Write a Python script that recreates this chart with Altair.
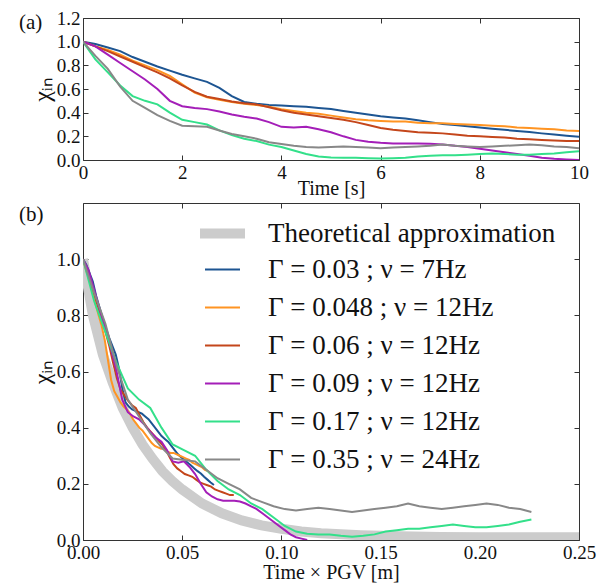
import altair as alt
import pandas as pd

# ---------------- data ----------------
TIME = [0, 0.25, 0.5, 0.75, 1, 1.25, 1.5, 1.75, 2, 2.25, 2.5, 2.75, 3, 3.25, 3.5, 3.75,
        4, 4.25, 4.5, 4.75, 5, 5.25, 5.5, 5.75, 6, 6.25, 6.5, 6.75, 7, 7.25, 7.5, 7.75,
        8, 8.25, 8.5, 8.75, 9, 9.25, 9.5, 9.75, 10]

SERIES = ["Γ = 0.03 ; ν = 7Hz", "Γ = 0.048 ; ν = 12Hz", "Γ = 0.06 ; ν = 12Hz",
          "Γ = 0.09 ; ν = 12Hz", "Γ = 0.17 ; ν = 12Hz", "Γ = 0.35 ; ν = 24Hz"]
PGV = [0.0066, 0.0063, 0.0076, 0.0113, 0.0226, 0.0226]
COLORS = ["#1d5592", "#ff9422", "#c4461b", "#a41eb8", "#33e08a", "#888888"]

CHI_003 = [1.00, 0.98, 0.95, 0.92, 0.87, 0.83, 0.79, 0.755, 0.72, 0.69, 0.66, 0.61, 0.54, 0.49,
           0.475, 0.465, 0.46, 0.455, 0.45, 0.44, 0.43, 0.415, 0.40, 0.385, 0.37, 0.36, 0.35,
           0.335, 0.32, 0.305, 0.295, 0.285, 0.275, 0.265, 0.255, 0.245, 0.237, 0.225, 0.215,
           0.205, 0.196]
CHI_0048 = [1.00, 0.96, 0.93, 0.89, 0.84, 0.80, 0.76, 0.71, 0.64, 0.57, 0.53, 0.51, 0.49, 0.475,
            0.465, 0.45, 0.43, 0.415, 0.40, 0.39, 0.375, 0.36, 0.345, 0.335, 0.33, 0.325, 0.325,
            0.315, 0.31, 0.31, 0.305, 0.30, 0.295, 0.29, 0.285, 0.275, 0.27, 0.265, 0.26, 0.25,
            0.245]
CHI_006 = [1.00, 0.96, 0.92, 0.875, 0.83, 0.785, 0.74, 0.69, 0.63, 0.575, 0.535, 0.515, 0.495,
           0.48, 0.47, 0.445, 0.42, 0.40, 0.385, 0.37, 0.355, 0.34, 0.32, 0.295, 0.27, 0.255,
           0.245, 0.235, 0.23, 0.225, 0.215, 0.205, 0.20, 0.195, 0.19, 0.18, 0.175, 0.17, 0.165,
           0.16, 0.16]
CHI_009 = [1.00, 0.96, 0.89, 0.82, 0.75, 0.68, 0.60, 0.50, 0.455, 0.44, 0.43, 0.41, 0.385, 0.365,
           0.35, 0.32, 0.28, 0.275, 0.28, 0.26, 0.235, 0.20, 0.17, 0.155, 0.145, 0.14, 0.14, 0.14,
           0.137, 0.13, 0.12, 0.11, 0.095, 0.08, 0.065, 0.05, 0.035, 0.02, 0.01, 0.005, 0.0]
CHI_017 = [1.00, 0.85, 0.74, 0.63, 0.54, 0.50, 0.47, 0.40, 0.34, 0.32, 0.30, 0.25, 0.21, 0.18,
           0.16, 0.13, 0.11, 0.08, 0.05, 0.03, 0.022, 0.02, 0.02, 0.015, 0.012, 0.015, 0.02, 0.03,
           0.035, 0.04, 0.04, 0.045, 0.05, 0.055, 0.05, 0.045, 0.045, 0.05, 0.055, 0.065, 0.073]
CHI_035 = [1.00, 0.88, 0.77, 0.62, 0.50, 0.44, 0.38, 0.33, 0.29, 0.285, 0.28, 0.25, 0.22, 0.20,
           0.18, 0.15, 0.135, 0.12, 0.11, 0.105, 0.11, 0.115, 0.11, 0.105, 0.10, 0.105, 0.11,
           0.115, 0.12, 0.13, 0.12, 0.115, 0.11, 0.115, 0.12, 0.125, 0.13, 0.125, 0.115, 0.11,
           0.10]
CHI = [CHI_003, CHI_0048, CHI_006, CHI_009, CHI_017, CHI_035]

THEORY_LABEL = "Theoretical approximation"
THEORY_COLOR = "#cccccc"
THEORY_X = [0, 0.005, 0.01, 0.015, 0.02, 0.025, 0.03, 0.035, 0.04, 0.045, 0.05, 0.06, 0.07,
            0.08, 0.09, 0.10, 0.11, 0.12, 0.14, 0.16, 0.18, 0.20, 0.22, 0.25]
THEORY_Y = [1.0, 0.80, 0.66, 0.56, 0.47, 0.40, 0.34, 0.29, 0.245, 0.21, 0.18, 0.13, 0.095,
            0.07, 0.052, 0.04, 0.03, 0.024, 0.017, 0.013, 0.011, 0.01, 0.01, 0.01]

TOP_X_TICKS = [0, 2, 4, 6, 8, 10]
TOP_Y_TICKS = [0.0, 0.2, 0.4, 0.6, 0.8, 1.0, 1.2]
BOT_X_TICKS = [0.0, 0.05, 0.10, 0.15, 0.20, 0.25]
BOT_Y_TICKS = [0.0, 0.2, 0.4, 0.6, 0.8, 1.0]

# ---------------- tables ----------------
rows = []
for name, pgv, ys in zip(SERIES, PGV, CHI):
    for t, v in zip(TIME, ys):
        rows.append({"series": name, "t": t, "xpgv": t * pgv, "chi": v})
df = pd.DataFrame(rows)
theory = pd.DataFrame({"curve": THEORY_LABEL, "x": THEORY_X, "y": THEORY_Y})

FONT = "Liberation Serif"
INK = "#111111"
FRAME = "#333333"
TICK_FONT = 19


def main_axis(orient, values, fmt, title, title_pad):
    return alt.Axis(orient=orient, values=values, format=fmt, title=title,
                    ticks=False, domain=False, grid=True, gridDash=[5, 2000],
                    gridColor=FRAME, gridOpacity=1, gridWidth=1,
                    labelPadding=3, labelFlush=False, labelOverlap=False,
                    labelFont=FONT, labelFontSize=TICK_FONT, labelColor=INK,
                    titleFont=FONT, titleFontSize=20 if orient == "bottom" else 24,
                    titleFontWeight="normal", titleColor=INK, titlePadding=title_pad)


def ghost_axis(orient, values):
    return alt.Axis(orient=orient, values=values, labels=False, title=None,
                    ticks=False, domain=False, grid=True, gridDash=[5, 2000],
                    gridColor=FRAME, gridOpacity=1, gridWidth=1)


# ---------------- panel (a) ----------------
xs_top = alt.Scale(domain=[0, 10], nice=False)
ys_top = alt.Scale(domain=[0, 1.2], nice=False)

top_lines = alt.Chart(df).mark_line(strokeWidth=2, clip=True).encode(
    x=alt.X("t:Q", scale=xs_top,
            axis=main_axis("bottom", TOP_X_TICKS, "d", "Time [s]", -4)),
    y=alt.Y("chi:Q", scale=ys_top,
            axis=main_axis("left", TOP_Y_TICKS, ".1f", "χᵢₙ", 2)),
    color=alt.Color("series:N", scale=alt.Scale(domain=SERIES, range=COLORS), legend=None),
)
top_ghost = alt.Chart(df).mark_line(strokeOpacity=0).encode(
    x=alt.X("t:Q", scale=xs_top, axis=ghost_axis("top", TOP_X_TICKS)),
    y=alt.Y("chi:Q", scale=ys_top, axis=ghost_axis("right", TOP_Y_TICKS)),
    detail="series:N",
)
top = alt.layer(top_lines, top_ghost).resolve_axis(
    x="independent", y="independent"
).properties(
    width=496, height=142,
    title=alt.TitleParams("(a)", anchor="start", orient="top", frame="group",
                          dx=-64, offset=-24, font=FONT, fontSize=21,
                          fontWeight="normal", color=INK),
)

# ---------------- panel (b) ----------------
xs_bot = alt.Scale(domain=[0, 0.25], nice=False)
ys_bot = alt.Scale(domain=[0, 1.2], nice=False)

theory_legend = alt.Legend(
    title=None, orient="none", legendX=112, legendY=3, padding=0,
    symbolType="stroke", symbolSize=2025, symbolStrokeWidth=10,
    labelFont=FONT, labelFontSize=27, labelColor=INK, labelLimit=600,
    labelOffset=18,
)
series_legend = alt.Legend(
    title=None, orient="none", legendX=121, legendY=48, padding=0,
    symbolType="stroke", symbolSize=1225, symbolStrokeWidth=2,
    labelFont=FONT, labelFontSize=27, labelColor=INK, labelLimit=600,
    labelOffset=27, rowPadding=6,
)

bot_theory = alt.Chart(theory).mark_line(strokeWidth=10, clip=True).encode(
    x=alt.X("x:Q", scale=xs_bot, axis=None),
    y=alt.Y("y:Q", scale=ys_bot, axis=None),
    color=alt.Color("curve:N", scale=alt.Scale(domain=[THEORY_LABEL], range=[THEORY_COLOR]),
                    legend=theory_legend),
)
bot_lines = alt.Chart(df).mark_line(strokeWidth=2, clip=True).encode(
    x=alt.X("xpgv:Q", scale=xs_bot,
            axis=main_axis("bottom", BOT_X_TICKS, ".2f", "Time × PGV [m]", 0)),
    y=alt.Y("chi:Q", scale=ys_bot,
            axis=main_axis("left", BOT_Y_TICKS, ".1f", "χᵢₙ", 2)),
    color=alt.Color("series:N", scale=alt.Scale(domain=SERIES, range=COLORS),
                    legend=series_legend),
)
bot_ghost = alt.Chart(df).mark_line(strokeOpacity=0).encode(
    x=alt.X("xpgv:Q", scale=xs_bot, axis=ghost_axis("top", BOT_X_TICKS)),
    y=alt.Y("chi:Q", scale=ys_bot, axis=ghost_axis("right", BOT_Y_TICKS)),
    detail="series:N",
)
bottom = alt.layer(bot_theory, bot_lines, bot_ghost).resolve_axis(
    x="independent", y="independent"
).resolve_scale(
    color="independent"
).resolve_legend(
    color="independent"
).properties(
    width=496, height=337,
    title=alt.TitleParams("(b)", anchor="start", orient="top", frame="group",
                          dx=-64, offset=-22, font=FONT, fontSize=21,
                          fontWeight="normal", color=INK),
)

chart = alt.vconcat(top, bottom, spacing=3).resolve_scale(
    x="independent", y="independent", color="independent"
).configure(
    padding={"left": 10, "top": 0, "right": 5, "bottom": 0},
    background="white",
).configure_view(
    stroke=FRAME, strokeWidth=1,
)

chart.save("out.html", embed_options={"renderer": "svg", "actions": False})
